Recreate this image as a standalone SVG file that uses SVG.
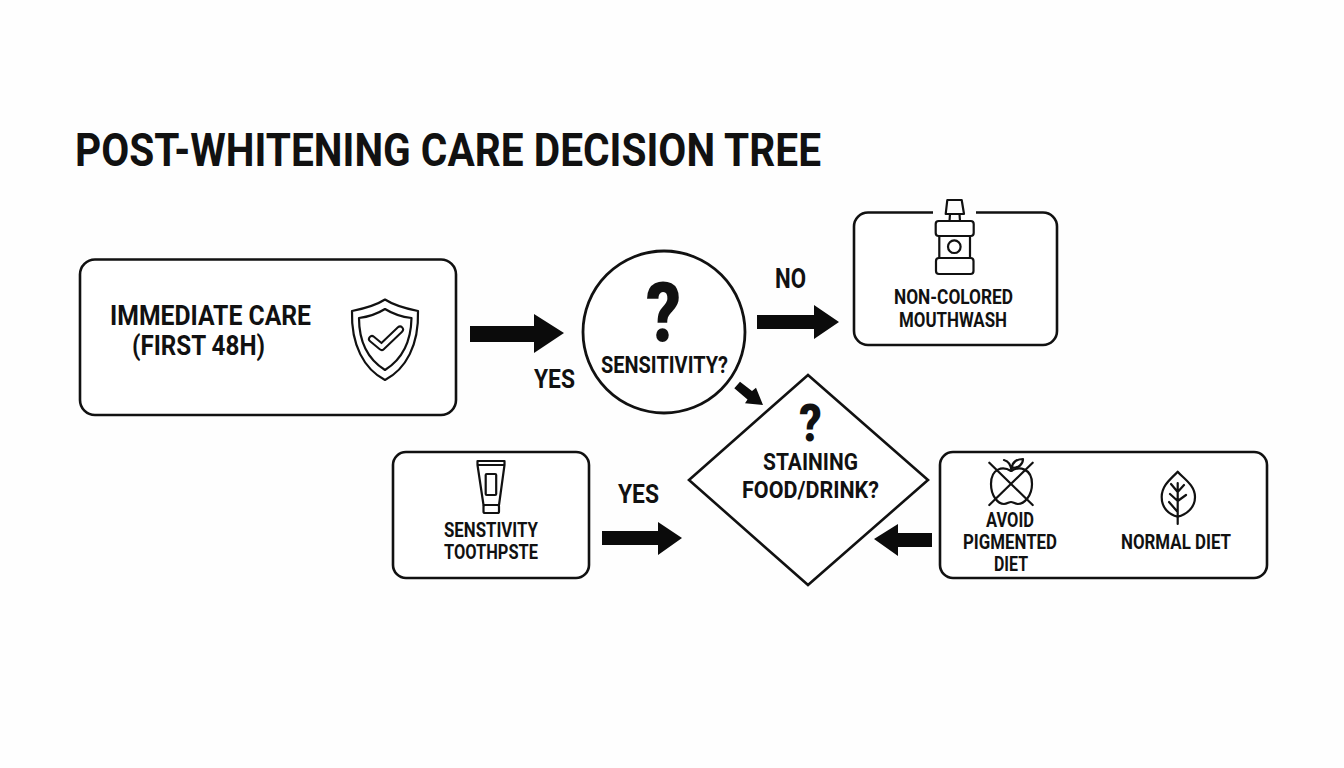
<svg xmlns="http://www.w3.org/2000/svg" width="1344" height="768" viewBox="0 0 1344 768">
<style>
.t{font-family:"Roboto","Liberation Sans",sans-serif;font-weight:700;fill:#111}
.box{fill:#fff;stroke:#111;stroke-width:2.6}
.ic{fill:none;stroke:#111;stroke-width:2.2;stroke-linejoin:round;stroke-linecap:round}
.ar{fill:#0b0b0b;stroke:none}
</style>
<rect width="1344" height="768" fill="#fefefe"/>
<text id="title" class="t" x="75" y="166" font-size="46" textLength="746" lengthAdjust="spacingAndGlyphs">POST-WHITENING CARE DECISION TREE</text>

<g id="connectors">
<polygon class="ar" points="470,326 534,326 534,314 564,333 534,353 534,342 470,342"/>
<polygon class="ar" points="757,315 814,315 814,305 839,322 814,339 814,329 757,329"/>
<polygon class="ar" points="734.300,388.300 740,381.700 752,391 756,387.700 763,405 745,403.300 747.500,399.500"/>
<polygon class="ar" points="602,531 658,531 658,522 682,538 658,555 658,545 602,545"/>
<polygon class="ar" points="932,533 898,533 898,524 874,539 898,556 898,547 932,547"/>
<text class="t" x="534" y="388" font-size="26" textLength="41" lengthAdjust="spacingAndGlyphs">YES</text>
<text class="t" x="775" y="288" font-size="27" textLength="31" lengthAdjust="spacingAndGlyphs">NO</text>
<text class="t" x="618" y="503" font-size="26" textLength="41" lengthAdjust="spacingAndGlyphs">YES</text>
</g>

<g id="node-immediate">
<rect class="box" x="80" y="259.500" width="376" height="155.500" rx="15"/>
<text class="t" x="110" y="325" font-size="28" textLength="201" lengthAdjust="spacingAndGlyphs">IMMEDIATE CARE</text>
<text class="t" x="132" y="355" font-size="28" textLength="133" lengthAdjust="spacingAndGlyphs">(FIRST 48H)</text>
<path class="ic" d="M385 299.500C375 306 362 309 352 311C351 345 364 369 385 380C406 369 419 345 418 311C408 309 395 306 385 299.500Z"/>
<path class="ic" d="M385 309C377 314 367 317 359 318C359 343 369 360 385 370C401 360 411 343 411.500 318C403 317 393 314 385 309Z"/>
<polyline points="372,339 381.700,347 400,329.500" fill="none" stroke="#111" stroke-width="8" stroke-linecap="round" stroke-linejoin="round"/>
<polyline points="372,339 381.700,347 400,329.500" fill="none" stroke="#fff" stroke-width="4" stroke-linecap="round" stroke-linejoin="round"/>
</g>

<g id="node-sensitivity">
<circle cx="664" cy="332" r="81" fill="#fff" stroke="#111" stroke-width="2.800"/>
<text x="0" y="0" transform="translate(663.500,342) scale(0.82,1)" font-family="Roboto,sans-serif" font-weight="900" font-size="84" fill="#111" text-anchor="middle">?</text>
<text class="t" x="601" y="373" font-size="23" textLength="127" lengthAdjust="spacingAndGlyphs">SENSITIVITY?</text>
</g>

<g id="node-mouthwash">
<path class="box" d="M933 212.500H868A14 14 0 0 0 854 226.500V331A14 14 0 0 0 868 345H1043A14 14 0 0 0 1057 331V226.500A14 14 0 0 0 1043 212.500H976"/>
<path class="ic" d="M947.300 200H961.700L964 214H945.700Z"/>
<path class="ic" d="M950 214L949.500 221M959.500 214L960 221"/>
<rect class="ic" x="935.700" y="221" width="38" height="15" rx="3"/>
<path class="ic" d="M939.300 236V258M970 236V258"/>
<rect class="ic" x="936" y="258" width="37.500" height="16" rx="3"/>
<circle class="ic" cx="954.300" cy="246.700" r="6.300"/>
<text class="t" x="894" y="304" font-size="20" textLength="119" lengthAdjust="spacingAndGlyphs">NON-COLORED</text>
<text class="t" x="899" y="327" font-size="20" textLength="108" lengthAdjust="spacingAndGlyphs">MOUTHWASH</text>
</g>

<g id="node-staining">
<polygon points="808,375 928,480 808,585 689,480" fill="#fff" stroke="#111" stroke-width="2.600" stroke-linejoin="miter"/>
<text x="0" y="0" transform="translate(810.500,441) scale(0.85,1)" font-family="Roboto,sans-serif" font-weight="900" font-size="52" fill="#111" text-anchor="middle">?</text>
<text class="t" x="763" y="470" font-size="23" textLength="95" lengthAdjust="spacingAndGlyphs">STAINING</text>
<text class="t" x="742" y="498" font-size="23" textLength="137" lengthAdjust="spacingAndGlyphs">FOOD/DRINK?</text>
</g>

<g id="node-toothpaste">
<rect class="box" x="393" y="452" width="196" height="126" rx="13"/>
<path class="ic" d="M477.500 461H504.500V465H477.500ZM477.500 465L483.500 505H499L504.500 465"/>
<rect class="ic" x="483.500" y="505" width="15.500" height="8" rx="1.500"/>
<rect class="ic" x="485.700" y="474" width="10.500" height="21" rx="1"/>
<text class="t" x="444" y="537" font-size="20" textLength="94" lengthAdjust="spacingAndGlyphs">SENSTIVITY</text>
<text class="t" x="444" y="559" font-size="20" textLength="94" lengthAdjust="spacingAndGlyphs">TOOTHPSTE</text>
</g>

<g id="node-diet">
<rect class="box" x="940" y="452" width="327" height="126" rx="13"/>
<path class="ic" d="M1011 471C1003 466 991 468 991 484C991 496 998 504 1004 504C1007 504 1009 502 1011 502C1013 502 1015 504 1018 504C1024 504 1032 496 1032 484C1032 468 1019 466 1011 471Z"/>
<path class="ic" d="M1004 460C1008 461 1011 465 1011.500 471M1012 468C1012 462 1017 459 1023 459C1023 465 1018 468 1012 468Z"/>
<path class="ic" d="M989.300 462.700L1032.700 505M1032.700 462.700L989.300 505"/>
<path class="ic" d="M1177.700 471.700C1172 478 1161.700 485 1161.700 497C1161.700 508 1169 515 1177.700 516.700C1186 515 1195 508 1195 497C1195 485 1183 478 1177.700 471.700Z"/>
<path class="ic" d="M1177.700 483V524M1177.700 492L1171 484M1177.700 492L1184 485M1177.700 501L1170 494M1177.700 501L1186 495M1177.700 512L1169 502"/>
<text class="t" x="986" y="527" font-size="20" textLength="48" lengthAdjust="spacingAndGlyphs">AVOID</text>
<text class="t" x="963" y="549" font-size="20" textLength="94" lengthAdjust="spacingAndGlyphs">PIGMENTED</text>
<text class="t" x="994" y="571" font-size="20" textLength="34" lengthAdjust="spacingAndGlyphs">DIET</text>
<text class="t" x="1121" y="549" font-size="20" textLength="110" lengthAdjust="spacingAndGlyphs">NORMAL DIET</text>
</g>
</svg>
